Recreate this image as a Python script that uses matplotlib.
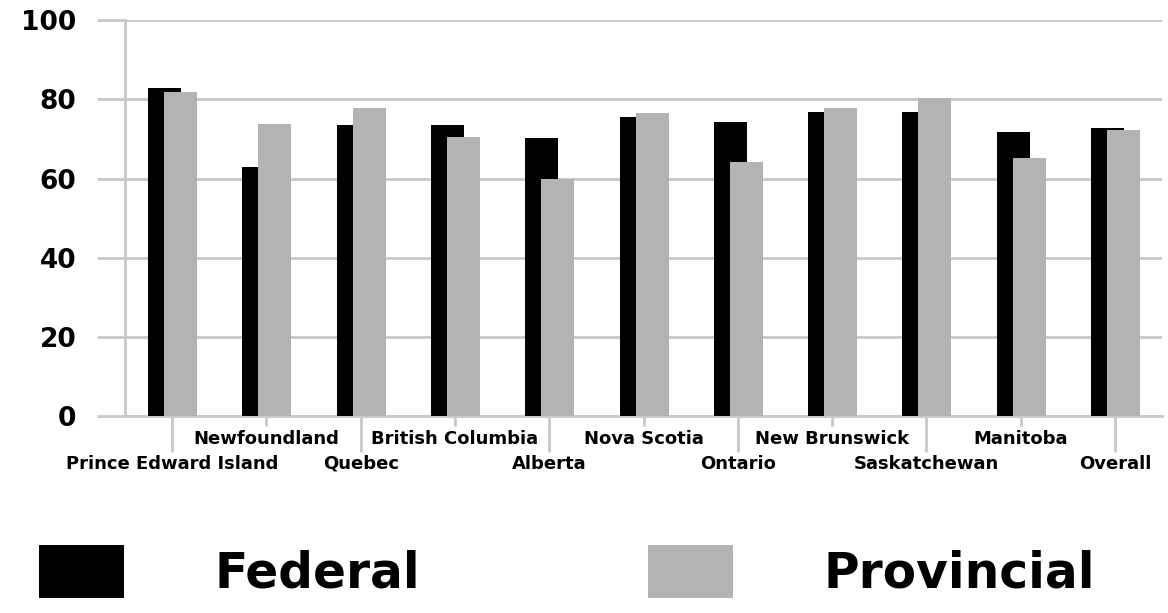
import matplotlib
matplotlib.use("Agg")
import matplotlib.pyplot as plt
import numpy as np

provinces = [
    "Prince Edward Island", "Newfoundland", "Quebec", "British Columbia",
    "Alberta", "Nova Scotia", "Ontario", "New Brunswick", "Saskatchewan",
    "Manitoba", "Overall",
]
federal = [83.0, 63.0, 73.5, 73.6, 70.2, 75.5, 74.4, 76.8, 76.8, 71.8, 72.8]
provincial = [81.8, 73.8, 77.7, 70.6, 60.0, 76.6, 64.1, 77.7, 80.3, 65.3, 72.2]
y_ticks = [0, 20, 40, 60, 80, 100]

GRID = "#c8c8c8"
BLACK = "#000000"
GREY = "#b3b3b3"

plt.rcParams["font.family"] = ["DejaVu Sans"]
plt.rcParams["font.weight"] = "bold"

fig = plt.figure(figsize=(11.68, 6.13), dpi=100)
ax = fig.add_axes([0.107, 0.3214, 0.888, 0.6456])

x = np.arange(len(provinces))
w = 0.35
ax.bar(x - 0.08, federal, width=w, color=BLACK, zorder=3, label="Federal")
ax.bar(x + 0.09, provincial, width=w, color=GREY, zorder=4, label="Provincial")

ax.set_xlim(-0.5, len(provinces) - 0.5)
ax.set_ylim(0, 100)
ax.set_yticks(y_ticks)
ax.set_yticklabels([str(v) for v in y_ticks], fontsize=19, fontweight="bold")
ax.yaxis.grid(True, color=GRID, linewidth=2, zorder=0)
ax.tick_params(axis="y", length=20, width=2, color=GRID, pad=15)

# staggered category labels: even positions on the lower row, odd on the upper
major = x[::2]
minor = x[1::2]
ax.set_xticks(major)
ax.set_xticklabels([provinces[i] for i in major], fontsize=13, fontweight="bold")
ax.set_xticks(minor, minor=True)
ax.set_xticklabels([provinces[i] for i in minor], minor=True, fontsize=13,
                   fontweight="bold")
ax.tick_params(axis="x", which="major", length=26, width=2, color=GRID, pad=2)
ax.tick_params(axis="x", which="minor", length=7, width=2, color=GRID, pad=3)

for s in ["top", "right"]:
    ax.spines[s].set_visible(False)
ax.spines["left"].set_color(GRID)
ax.spines["left"].set_linewidth(2)
ax.spines["bottom"].set_color(GRID)
ax.spines["bottom"].set_linewidth(2)
ax.spines["left"].set_zorder(1)

fig.legend(loc="center left", bbox_to_anchor=(-0.004, 0.068), ncol=2,
           frameon=False, handlelength=1.75, handleheight=1.3,
           handletextpad=1.85, columnspacing=4.7,
           prop={"size": 35, "weight": "bold"})

fig.savefig("out.png", dpi=100)
